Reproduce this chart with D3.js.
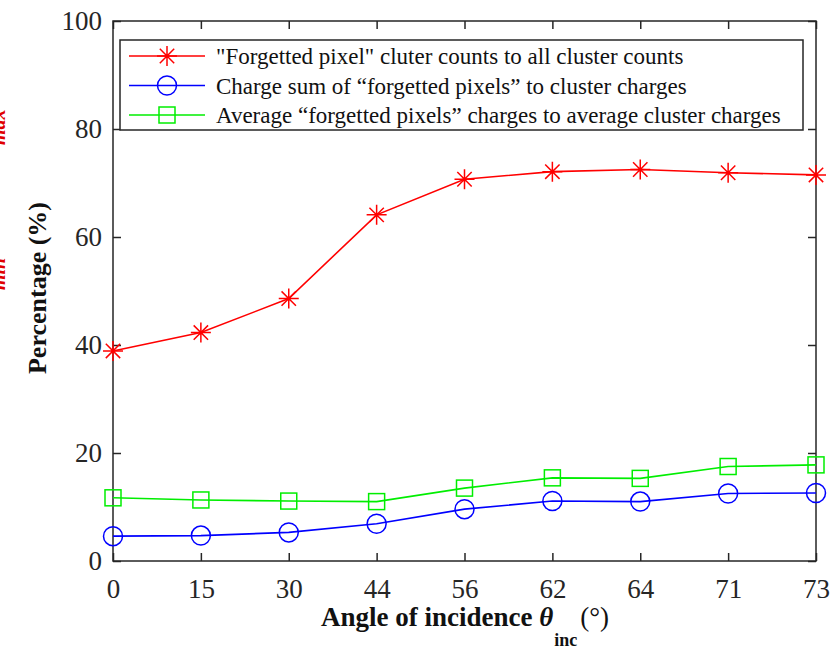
<!DOCTYPE html>
<html>
<head>
<meta charset="utf-8">
<script src="https://cdn.jsdelivr.net/npm/d3@7"></script>
<style>
  body { margin: 0; background: #fff; }
  svg { display: block; font-family: 'Liberation Serif', 'Times New Roman', serif; }
</style>
</head>
<body>
<script>
'use strict';

const angles = ['0', '15', '30', '44', '56', '62', '64', '71', '73'];
const clusterCounts = [38.9, 42.3, 48.6, 64.1, 70.7, 72.1, 72.5, 71.9, 71.5];
const chargeSums = [4.6, 4.7, 5.3, 6.9, 9.6, 11.1, 11.0, 12.5, 12.6];
const avgCharges = [11.7, 11.3, 11.1, 11.0, 13.5, 15.4, 15.3, 17.5, 17.8];
const yTicks = [0, 20, 40, 60, 80, 100];
const legendLabels = [
  '"Forgetted pixel" cluter counts to all cluster counts',
  'Charge sum of \u201cforgetted pixels\u201d to cluster charges',
  'Average \u201cforgetted pixels\u201d charges to average cluster charges'
];

const width = 833;
const height = 652;
const margin = {top: 21, right: 17, bottom: 91, left: 113};
const axisColor = '#262626';

const series = [
  {values: clusterCounts, color: '#ff0000', marker: 'star'},
  {values: chargeSums, color: '#0000ff', marker: 'circle'},
  {values: avgCharges, color: '#00ee00', marker: 'square'}
];

const svg = d3.select('body').append('svg')
  .attr('width', width)
  .attr('height', height);

const x = d3.scalePoint().domain(angles).range([margin.left, width - margin.right]);
const y = d3.scaleLinear().domain([0, 100]).range([height - margin.bottom, margin.top]);

// stray clipped labels at the left edge
svg.append('text')
  .attr('transform', 'translate(5,145) rotate(-90)')
  .attr('fill', '#e00000').attr('font-weight', 'bold').attr('font-style', 'italic')
  .attr('font-size', 20).text('max');
svg.append('text')
  .attr('transform', 'translate(5,290) rotate(-90)')
  .attr('fill', '#e00000').attr('font-weight', 'bold').attr('font-style', 'italic')
  .attr('font-size', 20).text('min');

function styleAxis(g, hideLabels) {
  g.select('.domain').remove();
  g.selectAll('.tick line').attr('stroke', axisColor).attr('stroke-width', 1.5);
  g.selectAll('.tick text')
    .attr('fill', axisColor)
    .attr('font-size', 27)
    .attr('font-family', "'Liberation Serif', serif");
  if (hideLabels) g.selectAll('.tick text').remove();
}

svg.append('g')
  .attr('transform', 'translate(0,' + y(0) + ')')
  .call(d3.axisBottom(x).tickSize(-8).tickPadding(18))
  .call(styleAxis, false);

svg.append('g')
  .attr('transform', 'translate(0,' + y(100) + ')')
  .call(d3.axisTop(x).tickSize(-8))
  .call(styleAxis, true);

svg.append('g')
  .attr('transform', 'translate(' + margin.left + ',0)')
  .call(d3.axisLeft(y).tickValues(yTicks).tickSize(-8).tickPadding(11))
  .call(styleAxis, false);

svg.append('g')
  .attr('transform', 'translate(' + (width - margin.right) + ',0)')
  .call(d3.axisRight(y).tickValues(yTicks).tickSize(-8))
  .call(styleAxis, true);

svg.append('rect')
  .attr('x', margin.left).attr('y', y(100))
  .attr('width', width - margin.right - margin.left)
  .attr('height', y(0) - y(100))
  .attr('fill', 'none')
  .attr('stroke', axisColor)
  .attr('stroke-width', 1.5);

function drawMarker(g, type, cx, cy, color) {
  if (type === 'star') {
    const r = 10;
    const d = r * 0.72;
    g.append('path')
      .attr('d', 'M' + (cx - r) + ',' + cy + 'H' + (cx + r) +
        'M' + cx + ',' + (cy - r) + 'V' + (cy + r) +
        'M' + (cx - d) + ',' + (cy - d) + 'L' + (cx + d) + ',' + (cy + d) +
        'M' + (cx - d) + ',' + (cy + d) + 'L' + (cx + d) + ',' + (cy - d))
      .attr('stroke', color).attr('stroke-width', 1.5).attr('fill', 'none');
  } else if (type === 'circle') {
    g.append('circle')
      .attr('cx', cx).attr('cy', cy).attr('r', 9.5)
      .attr('stroke', color).attr('stroke-width', 1.5).attr('fill', 'none');
  } else {
    g.append('rect')
      .attr('x', cx - 8).attr('y', cy - 8).attr('width', 16).attr('height', 16)
      .attr('stroke', color).attr('stroke-width', 1.5).attr('fill', 'none');
  }
}

const line = d3.line()
  .x(function(d, i) { return x(angles[i]); })
  .y(function(d) { return y(d); });

series.forEach(function(s) {
  const g = svg.append('g');
  g.append('path')
    .attr('d', line(s.values))
    .attr('fill', 'none')
    .attr('stroke', s.color)
    .attr('stroke-width', 1.6);
  s.values.forEach(function(v, i) {
    drawMarker(g, s.marker, x(angles[i]), y(v), s.color);
  });
});

// legend
const legend = svg.append('g');
legend.append('rect')
  .attr('x', 120).attr('y', 40).attr('width', 683).attr('height', 90)
  .attr('fill', '#fff').attr('stroke', axisColor).attr('stroke-width', 1.5);

series.forEach(function(s, i) {
  const ly = 56 + i * 29.5;
  legend.append('line')
    .attr('x1', 129).attr('x2', 205).attr('y1', ly).attr('y2', ly)
    .attr('stroke', s.color).attr('stroke-width', 1.6);
  drawMarker(legend, s.marker, 167, ly, s.color);
  legend.append('text')
    .attr('x', 216).attr('y', ly + 8)
    .attr('font-size', 23)
    .attr('fill', '#111')
    .text(legendLabels[i]);
});

// axis titles
svg.append('text')
  .attr('transform', 'translate(46,288) rotate(-90)')
  .attr('text-anchor', 'middle')
  .attr('font-size', 26)
  .attr('font-weight', 'bold')
  .attr('fill', '#111')
  .text('Percentage (%)');

const xt = svg.append('text')
  .attr('x', 321).attr('y', 626)
  .attr('font-size', 27)
  .attr('font-weight', 'bold')
  .attr('fill', '#111');
xt.append('tspan').text('Angle of incidence ');
xt.append('tspan').attr('font-style', 'italic').text('\u03b8');
xt.append('tspan').attr('dx', 1).attr('dy', 20).attr('font-size', 18).text('inc');
xt.append('tspan').attr('dx', 3).attr('dy', -20).attr('font-weight', 'normal').text('(\u00b0)');
</script>
</body>
</html>
